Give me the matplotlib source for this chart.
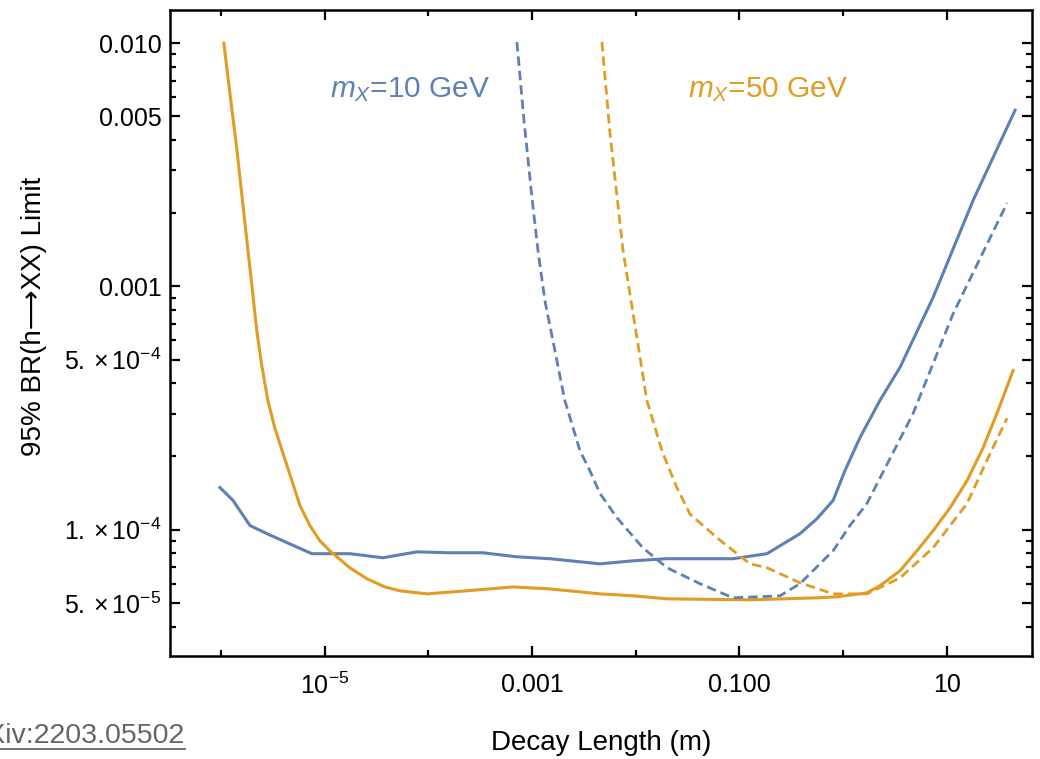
import matplotlib
matplotlib.use("Agg")
import matplotlib.pyplot as plt
from matplotlib.ticker import FixedLocator, NullFormatter
import numpy as np

plt.rcParams['font.family'] = ['Liberation Sans', 'DejaVu Sans']
plt.rcParams['mathtext.fontset'] = 'custom'
plt.rcParams['mathtext.rm'] = 'Liberation Sans'
plt.rcParams['mathtext.it'] = 'Liberation Sans:italic'

BLUE = '#5E81B5'
ORANGE = '#E19C24'

# m_X = 10 GeV, solid
x10_solid = [9.8e-7, 1.31e-6, 1.91e-6, 2.78e-6, 3.97e-6, 7.55e-6, 1.75e-5, 3.65e-5,
             7.76e-5, 1.61e-4, 3.36e-4, 7.15e-4, 1.49e-3, 4.52e-3, 9.4e-3, 2.0e-2,
             8.65e-2, 0.184, 0.383, 0.558, 0.80, 1.04, 1.45, 2.26, 3.53, 7.35, 17.9, 45.4]
y10_solid = [1.49e-4, 1.32e-4, 1.04e-4, 9.64e-5, 9.0e-5, 7.97e-5, 7.97e-5, 7.67e-5,
             8.11e-5, 8.04e-5, 8.04e-5, 7.74e-5, 7.6e-5, 7.24e-5, 7.45e-5, 7.6e-5,
             7.6e-5, 7.97e-5, 9.63e-5, 1.11e-4, 1.32e-4, 1.75e-4, 2.39e-4, 3.4e-4,
             4.65e-4, 9.0e-4, 2.26e-3, 5.3e-3]

# m_X = 10 GeV, dashed
x10_dash = [7.15e-4, 8.36e-4, 9.98e-4, 1.14e-3, 1.33e-3, 1.66e-3, 2.07e-3, 2.9e-3,
            3.61e-3, 4.52e-3, 6.59e-3, 1.17e-2, 2.0e-2, 4.16e-2, 8.65e-2, 0.246,
            0.383, 0.80, 1.16, 1.69, 4.71, 11.5, 38.0]
y10_dash = [1.01e-2, 4.82e-3, 2.32e-3, 1.41e-3, 8.75e-4, 5.46e-4, 3.4e-4, 2.11e-4,
            1.75e-4, 1.41e-4, 1.12e-4, 8.43e-5, 6.98e-5, 6.0e-5, 5.25e-5, 5.35e-5,
            6.0e-5, 8.2e-5, 1.04e-4, 1.28e-4, 3.0e-4, 7.74e-4, 2.2e-3]

# m_X = 50 GeV, solid
x50_solid = [1.07e-6, 1.14e-6, 1.43e-6, 1.78e-6, 1.99e-6, 2.22e-6, 2.48e-6, 2.84e-6,
             3.32e-6, 3.96e-6, 4.84e-6, 5.78e-6, 7.22e-6, 9.01e-6, 1.12e-5, 1.75e-5,
             2.56e-5, 3.81e-5, 5.32e-5, 9.69e-5, 2.35e-4, 6.54e-4, 1.49e-3, 4.52e-3,
             9.4e-3, 2.0e-2, 0.126, 0.558, 0.87, 1.69, 2.26, 3.53, 5.15, 7.35, 10.7,
             15.6, 22.3, 31.1, 43.4]
y50_solid = [1.0e-2, 7.96e-3, 3.63e-3, 1.55e-3, 1.01e-3, 6.59e-4, 4.73e-4, 3.4e-4,
             2.61e-4, 2.07e-4, 1.59e-4, 1.26e-4, 1.04e-4, 9.01e-5, 8.2e-5, 6.98e-5,
             6.29e-5, 5.82e-5, 5.61e-5, 5.45e-5, 5.61e-5, 5.82e-5, 5.71e-5, 5.45e-5,
             5.35e-5, 5.2e-5, 5.15e-5, 5.25e-5, 5.3e-5, 5.5e-5, 5.89e-5, 6.78e-5,
             8.2e-5, 9.9e-5, 1.23e-4, 1.59e-4, 2.17e-4, 3.09e-4, 4.51e-4]

# m_X = 50 GeV, dashed
x50_dash = [4.72e-3, 5.64e-3, 7.53e-3, 9.0e-3, 1.28e-2, 1.79e-2, 2.44e-2, 3.33e-2,
            6.07e-2, 0.126, 0.184, 0.383, 0.80, 1.69, 3.53, 7.35, 15.6, 26.1, 38.0]
y50_dash = [1.01e-2, 4.27e-3, 1.41e-3, 8.75e-4, 3.4e-4, 2.11e-4, 1.52e-4, 1.16e-4,
            9.27e-5, 7.24e-5, 6.98e-5, 6.05e-5, 5.45e-5, 5.45e-5, 6.34e-5, 8.43e-5,
            1.28e-4, 2.06e-4, 2.87e-4]

xticks_major = [1e-5, 1e-3, 1e-1, 10]
xtick_labels = [r'$\mathregular{10^{-5}}$', '0.001', '0.100', '10']
xticks_minor = [1e-6, 1e-4, 1e-2, 1]
yticks_major = [0.01, 0.005, 0.001, 5e-4, 1e-4, 5e-5]
ytick_labels = ['0.010', '0.005', '0.001', r'$\mathregular{5.\times10^{-4}}$',
                r'$\mathregular{1.\times10^{-4}}$', r'$\mathregular{5.\times10^{-5}}$']

fig = plt.figure(figsize=(10.4, 7.59), dpi=100)
ax = fig.add_axes([170/1040, 1 - 656/759, (1032 - 170)/1040, (656 - 10)/759])

ax.plot(x10_solid, y10_solid, color=BLUE, lw=2.2, solid_joinstyle='round')
ax.plot(x50_solid, y50_solid, color=ORANGE, lw=2.2, solid_joinstyle='round')
ax.plot(x10_dash, y10_dash, color=BLUE, lw=2.0, dashes=(3.4, 1.8))
ax.plot(x50_dash, y50_dash, color=ORANGE, lw=2.0, dashes=(3.4, 1.8))

ax.set_xscale('log')
ax.set_yscale('log')
ax.set_xlim(10**-6.49, 10**1.82)
ax.set_ylim(10**-4.519, 10**-1.864)

ax.xaxis.set_major_locator(FixedLocator(xticks_major))
ax.set_xticklabels(xtick_labels)
ax.xaxis.set_minor_locator(FixedLocator(xticks_minor))
ax.xaxis.set_minor_formatter(NullFormatter())

yminor = [m * 10.0**e for e in range(-5, -1) for m in range(1, 10)]
yminor = [v for v in yminor if not any(np.isclose(v, t) for t in yticks_major)]
ax.yaxis.set_major_locator(FixedLocator(yticks_major))
ax.set_yticklabels(ytick_labels)
ax.yaxis.set_minor_locator(FixedLocator(yminor))
ax.yaxis.set_minor_formatter(NullFormatter())

ax.tick_params(which='both', direction='in', top=True, right=True, width=1.6, colors='black')
ax.tick_params(which='major', length=7, labelsize=18, pad=6)
ax.tick_params(axis='x', which='major', pad=12)
ax.tick_params(which='minor', length=4)
for s in ax.spines.values():
    s.set_linewidth(1.8)

ax.set_xlabel('Decay Length (m)', fontsize=20, labelpad=22)
ax.set_ylabel('95% BR(h⟶XX) Limit', fontsize=20)
ax.yaxis.set_label_coords(-0.143, 0.525)

ax.text(1.12e-5, 6.0e-3, r'$m_X$=10 GeV', color=BLUE, fontsize=21.5, ha='left', va='baseline')
ax.text(3.18e-2, 6.0e-3, r'$m_X$=50 GeV', color=ORANGE, fontsize=21.5, ha='left', va='baseline')

fig.text(185/1040, 1 - 743/759, 'arXiv:2203.05502', color='#666666', fontsize=20.5,
         ha='right', va='baseline')
fig.add_artist(plt.Line2D([0, 185/1040], [1 - 749/759] * 2, color='#666666', lw=1.3))

fig.savefig('out.png', dpi=100)
